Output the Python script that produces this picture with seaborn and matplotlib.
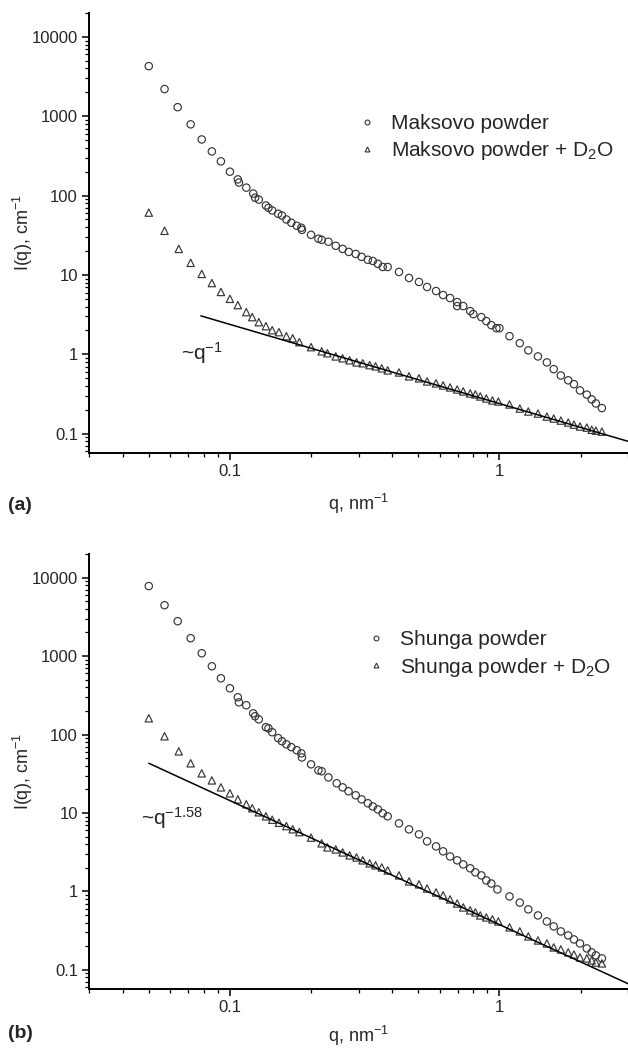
import numpy as np
import pandas as pd
import matplotlib
matplotlib.use("Agg")
import matplotlib.pyplot as plt
import matplotlib.ticker as mticker
from matplotlib.lines import Line2D
import seaborn as sns

# ---- panel (a): Maksovo ----
q_mak = [0.050, 0.0572, 0.064, 0.0715, 0.0786, 0.0857, 0.0926, 0.100, 0.107, 0.108,
         0.115, 0.122, 0.124, 0.128, 0.136, 0.139, 0.1435, 0.151, 0.156, 0.162,
         0.169, 0.177, 0.184, 0.185, 0.200, 0.213,
         0.219, 0.232, 0.247, 0.262, 0.276, 0.293, 0.308, 0.325, 0.339, 0.354,
         0.369, 0.385, 0.424, 0.462, 0.503, 0.539, 0.582, 0.618, 0.656, 0.697,
         0.697, 0.734, 0.779, 0.800, 0.857, 0.894, 0.933, 0.975, 1.00, 1.09,
         1.19, 1.28, 1.39, 1.50, 1.59, 1.69, 1.80, 1.89, 1.99, 2.11,
         2.20, 2.28, 2.40]
I_mak = [4280, 2200, 1300, 790, 510, 360, 270, 200, 160, 146,
         126, 106, 94, 89, 75, 70, 65, 59, 56, 50,
         45.5, 41.7, 39.3, 37, 32, 28.6,
         27.7, 26.2, 23.3, 21.3, 19.5, 18.4, 16.9, 15.5, 15.0, 13.8,
         12.6, 12.6, 10.9, 9.16, 8.15, 7.05, 6.27, 5.58, 5.11, 4.55,
         4.05, 4.05, 3.5, 3.21, 2.94, 2.62, 2.33, 2.13, 2.13, 1.69,
         1.38, 1.12, 0.94, 0.79, 0.65, 0.54, 0.47, 0.42, 0.35, 0.31,
         0.27, 0.24, 0.21]

# q grid of the D2O runs (same in both panels)
q_d2o = [0.050, 0.0572, 0.0646, 0.0715, 0.0786, 0.0857, 0.0926, 0.100, 0.107, 0.115,
         0.121, 0.128, 0.136, 0.1435, 0.152, 0.162, 0.171, 0.181, 0.200,
         0.219, 0.230, 0.247, 0.262, 0.278, 0.295, 0.311, 0.330, 0.347, 0.366,
         0.385, 0.424, 0.462, 0.503, 0.539, 0.582, 0.618, 0.656, 0.697, 0.734,
         0.779, 0.814, 0.849, 0.894, 0.942, 0.991, 1.09, 1.19, 1.28, 1.39,
         1.50, 1.59, 1.69, 1.80, 1.89, 1.99, 2.11, 2.20, 2.28, 2.40]
I_mak_d2o = [61, 36, 21.3, 14.2, 10.3, 7.9, 6.1, 5.0, 4.17, 3.4,
             2.94, 2.54, 2.26, 2.01, 1.90, 1.69, 1.59, 1.42, 1.23,
             1.09, 1.03, 0.94, 0.89, 0.84, 0.79, 0.77, 0.73, 0.705, 0.665,
             0.627, 0.59, 0.527, 0.497, 0.455, 0.43, 0.405, 0.382, 0.36, 0.34,
             0.321, 0.312, 0.294, 0.277, 0.262, 0.254, 0.233, 0.207, 0.19, 0.179,
             0.164, 0.155, 0.146, 0.138, 0.13, 0.123, 0.119, 0.112, 0.109, 0.106]
fit_mak_q = [0.078, 3.0]
fit_mak_I = [3.05, 0.080]

# ---- panel (b): Shunga ----
q_shu = [0.050, 0.0572, 0.064, 0.0715, 0.0786, 0.0857, 0.0926, 0.100, 0.107, 0.108,
         0.115, 0.122, 0.124, 0.128, 0.136, 0.139, 0.1435, 0.151, 0.156, 0.162,
         0.169, 0.177, 0.184, 0.185, 0.200, 0.213,
         0.219, 0.232, 0.249, 0.262, 0.2755, 0.293, 0.308, 0.325, 0.339, 0.354,
         0.369, 0.385, 0.424, 0.462, 0.503, 0.539, 0.582, 0.618, 0.656, 0.697,
         0.734, 0.779, 0.814, 0.857, 0.894, 0.933, 0.983, 1.09, 1.19, 1.28,
         1.39, 1.50, 1.59, 1.69, 1.80, 1.89, 1.99, 2.11, 2.20, 2.28, 2.40]
I_shu = [7800, 4450, 2780, 1690, 1086, 741, 521, 388, 298, 257,
         236, 186, 171, 156, 124, 120, 107, 90, 82, 75,
         69, 63, 57.5, 51, 41.7, 34.9,
         34, 28.4, 23.9, 21.2, 18.9, 16.8, 14.9, 13.3, 12.1, 11.1,
         9.9, 9.06, 7.37, 6.18, 5.34, 4.35, 3.75, 3.24, 2.79, 2.49,
         2.21, 1.97, 1.75, 1.6, 1.38, 1.26, 1.06, 0.863, 0.72, 0.59,
         0.494, 0.414, 0.358, 0.309, 0.275, 0.244, 0.217, 0.1875, 0.167, 0.153, 0.14]
I_shu_d2o = [161, 95, 61, 43, 32, 26, 21.2, 17.8, 14.9, 12.9,
             11.5, 10.2, 9.06, 8.2, 7.5, 6.8, 6.2, 5.7, 4.85,
             4.1, 3.64, 3.43, 3.14, 2.88, 2.71, 2.49, 2.28, 2.15, 2.02,
             1.85, 1.6, 1.34, 1.23, 1.09, 0.97, 0.89, 0.79, 0.70, 0.625,
             0.573, 0.54, 0.494, 0.466, 0.44, 0.414, 0.348, 0.309, 0.267, 0.237,
             0.217, 0.193, 0.182, 0.167, 0.157, 0.144, 0.14, 0.132, 0.124, 0.121]
fit_shu_q = [0.050, 3.0]
fit_shu_I = [43, 0.0666]

sns.set_style("ticks")
plt.rcParams["font.family"] = ["Liberation Sans", "DejaVu Sans"]
plt.rcParams["mathtext.default"] = "regular"

mc = "#363636"

fig = plt.figure(figsize=(6.28, 10.49), dpi=100)
ax_a = fig.add_axes([89 / 628, 1 - 453 / 1049, 539 / 628, 440 / 1049])
ax_b = fig.add_axes([89 / 628, 1 - 989 / 1049, 539 / 628, 435 / 1049])


def draw_panel(ax, q1, I1, lab1, q2, I2, lab2, fq, fI, note, note_xy, leg_xy, xlab_y):
    df = pd.concat([pd.DataFrame({"q": q1, "I": I1, "sample": lab1}),
                    pd.DataFrame({"q": q2, "I": I2, "sample": lab2})])
    ax.set_xscale("log")
    ax.set_yscale("log")
    sns.scatterplot(data=df, x="q", y="I", style="sample", markers=["o", "^"],
                    s=28, color=mc, facecolor="none", edgecolor=mc,
                    linewidth=0.85, legend=False, ax=ax)
    sns.lineplot(x=fq, y=fI, color="black", lw=1.1, ax=ax)

    ax.set_xlim(0.03, 3.0)
    ax.set_ylim(0.057, 20000)
    fmt = mticker.FuncFormatter(lambda v, p: f"{v:g}")
    for axis in (ax.xaxis, ax.yaxis):
        axis.set_major_locator(mticker.LogLocator(base=10, numticks=20))
        axis.set_minor_locator(mticker.LogLocator(base=10, subs=np.arange(2, 10), numticks=20))
        axis.set_major_formatter(fmt)
        axis.set_minor_formatter(mticker.NullFormatter())
    ax.tick_params(which="major", direction="out", length=5, width=1.1,
                   labelsize=12, pad=3, color="black")
    ax.tick_params(which="minor", direction="out", length=3, width=0.9, color="black")
    sns.despine(ax=ax)
    for sp in ("left", "bottom"):
        ax.spines[sp].set_linewidth(1.4)
        ax.spines[sp].set_color("black")

    ax.set_xlabel(r"q, nm$^{-1}$", fontsize=13)
    ax.set_ylabel(r"I(q), cm$^{-1}$", fontsize=13)
    ax.xaxis.set_label_coords(0.5, xlab_y)
    ax.yaxis.set_label_coords(-0.100, 0.5)

    ax.text(note_xy[0], note_xy[1], note, fontsize=15, ha="left", va="center")

    handles = [Line2D([], [], ls="none", marker="o", ms=3.5, mfc="none", mec=mc, mew=0.8),
               Line2D([], [], ls="none", marker="^", ms=3.5, mfc="none", mec=mc, mew=0.8)]
    ax.legend(handles, [lab1, lab2], loc="center left", bbox_to_anchor=leg_xy,
              frameon=False, fontsize=15, borderpad=0, borderaxespad=0,
              handlelength=1.0, handletextpad=0.65, labelspacing=0.3)


draw_panel(ax_a, q_mak, I_mak, "Maksovo powder",
           q_d2o, I_mak_d2o, r"Maksovo powder + D$_2$O",
           fit_mak_q, fit_mak_I, r"~q$^{-1}$", (0.066, 1.05), (0.4965, 0.716), -0.089)
draw_panel(ax_b, q_shu, I_shu, "Shunga powder",
           q_d2o, I_shu_d2o, r"Shunga powder + D$_2$O",
           fit_shu_q, fit_shu_I, r"~q$^{-1.58}$", (0.0466, 8.5), (0.513, 0.769), -0.080)

fig.text(8 / 628, 1 - 506 / 1049, "(a)", fontsize=14, fontweight="bold", va="center")
fig.text(8 / 628, 1 - 1034 / 1049, "(b)", fontsize=14, fontweight="bold", va="center")

fig.savefig("out.png", dpi=100)
